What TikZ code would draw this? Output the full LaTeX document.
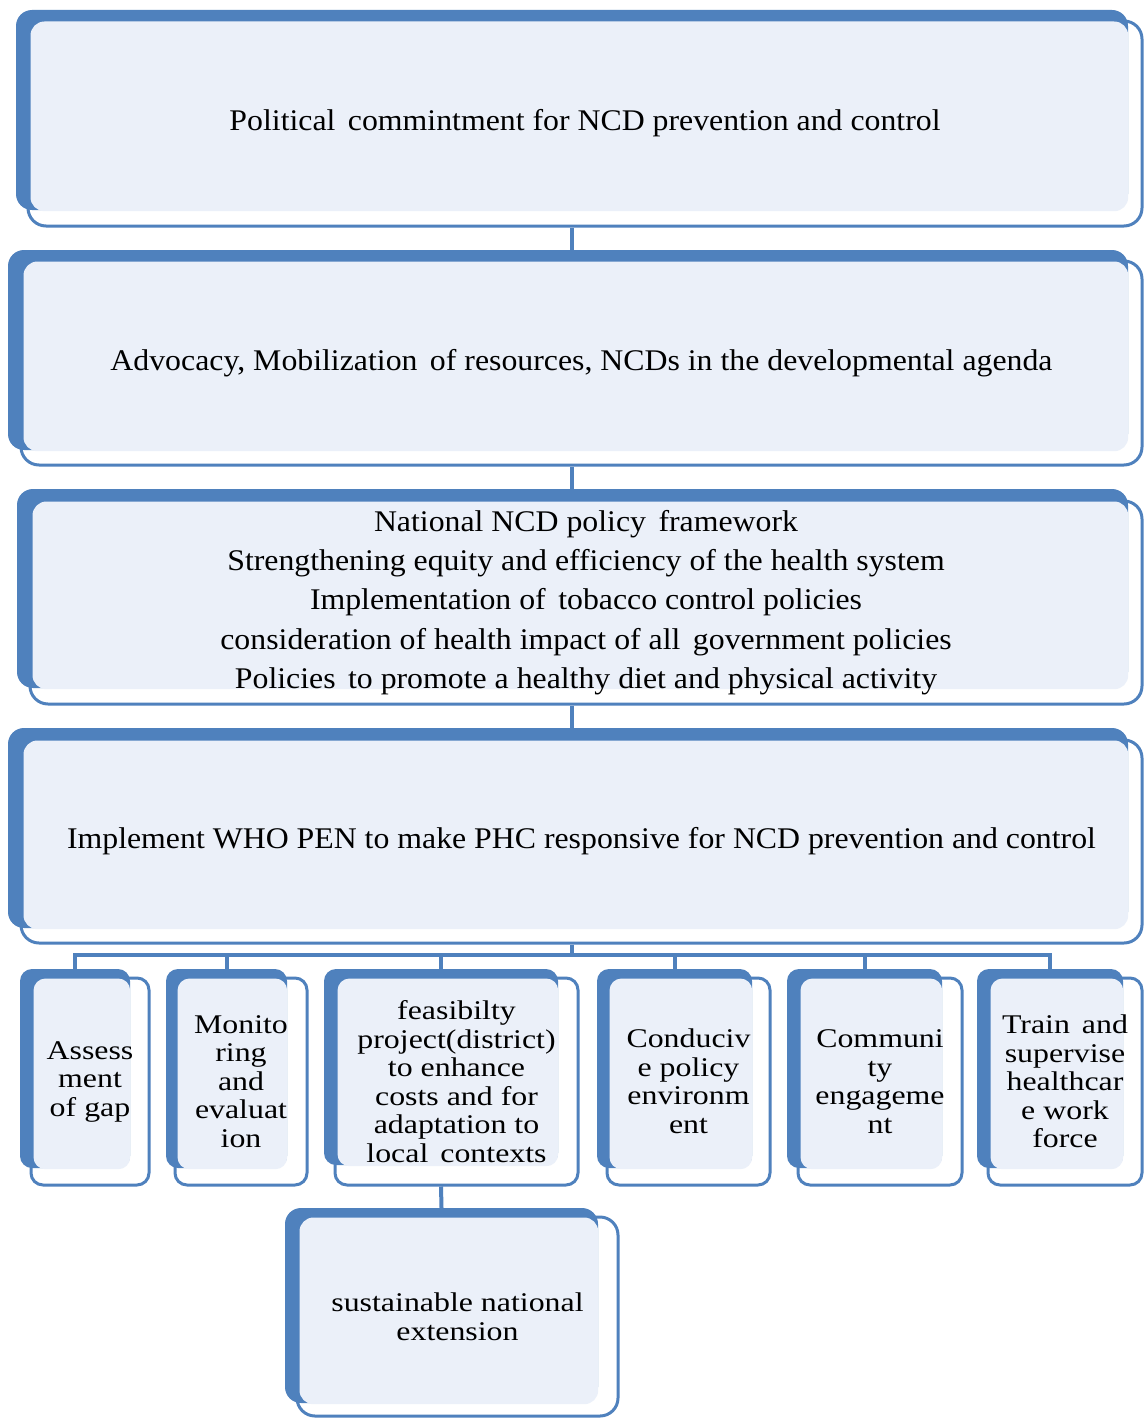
\documentclass[tikz,border=0pt]{standalone}
\usepackage{fontspec}
\setmainfont{Liberation Serif}
\usetikzlibrary{fit,calc}
\definecolor{blu}{RGB}{79,129,189}
\definecolor{lfill}{RGB}{235,240,249}
\tikzset{
  backbox/.style={fill=blu, draw=none, rounded corners=16pt, inner sep=0pt},
  frontbox/.style={fill=white, draw=blu, line width=3pt, rounded corners=18pt, inner sep=0pt},
  lightfill/.style={fill=lfill, rounded corners=14pt},
  conn/.style={draw=blu, line width=4pt},
  bigtxt/.style={align=center, inner sep=0pt, font=\fontsize{30}{39.3}\selectfont\addfontfeatures{FakeStretch=1.06}},
  smalltxt/.style={align=center, inner sep=0pt, font=\fontsize{27}{28.5}\selectfont\addfontfeatures{FakeStretch=1.18}},
  small/.style={rounded corners=12pt}
}
\newcommand\tribox[8][]{%
  \node[frontbox,#1,fit={#5 #6}] (#2f) {};
  \node[backbox,#1,fit={#3 #4}] (#2b) {};
  \fill[lightfill,#1] ($(#2f.north west)+(4,2)$) rectangle ($(#2b.south east)+(0,1)$);
  \node[#7] (#2t) at (#2f.center) {#8};
}
\begin{document}
\begin{tikzpicture}[x=1pt,y=-1pt]
\useasboundingbox (0,0) rectangle (1143,1418);
\fill[white] (0,0) rectangle (1143,1418);
% main boxes
\tribox{b1}{(16,10)}{(1128,210)}{(28,21)}{(1142,226)}{bigtxt}{Political\hspace{0.15em} commintment for NCD prevention and control}
\tribox{b2}{(8,250)}{(1128,450)}{(21,261)}{(1142,465)}{bigtxt}{Advocacy, Mobilization\hspace{0.15em} of resources, NCDs in the developmental agenda}
\tribox{b3}{(17,489)}{(1128,688)}{(30,501)}{(1142,704)}{bigtxt}{National NCD policy\hspace{0.15em} framework\\Strengthening equity and efficiency of the health system\\Implementation of\hspace{0.15em} tobacco control policies\\consideration of health impact of all\hspace{0.15em} government policies\\Policies\hspace{0.15em} to promote a healthy diet and physical activity}
\tribox{b4}{(8,728)}{(1128,928)}{(21,740)}{(1142,943)}{bigtxt}{Implement WHO PEN to make PHC responsive for NCD prevention and control}
% children
\tribox[small]{c1}{(20,969)}{(130,1168)}{(31,978)}{(149,1185)}{smalltxt}{Assess\\ment\\of gap}
\tribox[small]{c2}{(166,969)}{(287,1168)}{(175,978)}{(307,1185)}{smalltxt}{Monito\\ring\\and\\evaluat\\ion}
\tribox[small]{c3}{(324,969)}{(558,1165)}{(335,978)}{(578,1185)}{smalltxt}{feasibilty\\project(district)\\to enhance\\costs and for\\adaptation to\\local\hspace{0.15em} contexts}
\tribox[small]{c4}{(597,969)}{(752,1168)}{(607,978)}{(770,1185)}{smalltxt}{Conduciv\\e policy\\environm\\ent}
\tribox[small]{c5}{(787,969)}{(942,1168)}{(798,978)}{(962,1185)}{smalltxt}{Communi\\ty\\engageme\\nt}
\tribox[small]{c6}{(977,969)}{(1123,1168)}{(988,978)}{(1142,1185)}{smalltxt}{Train\hspace{0.15em} and\\supervise\\healthcar\\e work\\force}
\tribox{dn}{(285,1208)}{(598,1403)}{(297,1217)}{(618,1416)}{smalltxt}{sustainable national\\extension}
% connectors
\coordinate (sp) at (572,0);
\draw[conn] (sp |- b1f.south) -- (sp |- b2b.north);
\draw[conn] (sp |- b2f.south) -- (sp |- b3b.north);
\draw[conn] (sp |- b3f.south) -- (sp |- b4b.north);
\coordinate (hub) at (572,955);
\draw[conn] (sp |- b4f.south) -- (hub);
\draw[conn] (c1b.north) -- (c1b.north |- hub) -- (c6b.north |- hub) -- (c6b.north);
\foreach \c in {c2,c3,c4,c5} \draw[conn] (\c b.north |- hub) -- (\c b.north);
\draw[conn] (c3b.north |- c3f.south) -- (dnb.north);
\end{tikzpicture}
\end{document}
